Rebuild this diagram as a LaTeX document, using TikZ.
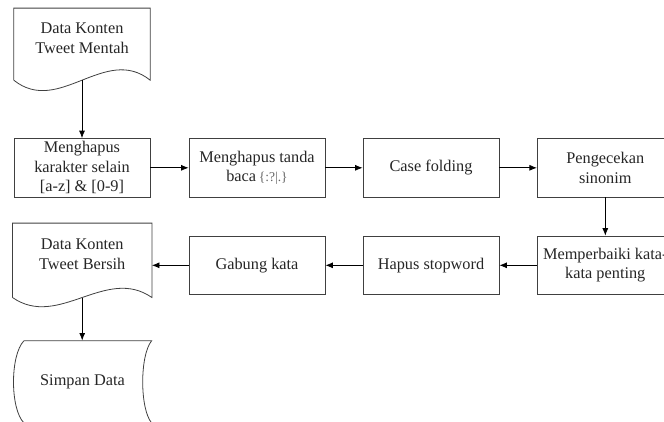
\documentclass[tikz,border=0pt]{standalone}
\usepackage{fontspec}
\setmainfont{Liberation Serif}
\usetikzlibrary{arrows.meta}
\tikzset{
  proc/.style={draw=black!75, line width=0.8pt, minimum width=136pt, minimum height=58.5pt,
    inner sep=0pt, align=center, text=black!85, font=\fontsize{16.3}{19.5}\selectfont},
  txt/.style={inner sep=0pt, align=center, text=black!85, font=\fontsize{16.3}{19.5}\selectfont},
  frame/.style={draw=none, inner sep=0pt},
  outline/.style={draw=black!75, line width=0.8pt},
  conn/.style={draw=black, line width=0.8pt, -{Latex[length=7.5pt,width=6pt]}},
}
\begin{document}
\begin{tikzpicture}[x=1pt,y=-1pt]
\useasboundingbox (0,0) rectangle (664,421);
\begin{scope}
\clip (0,0) rectangle (664,421);
% process boxes
\node[proc] (b1) at (82,167.8) {Menghapus\\karakter selain\\{[a-z] \& [0-9]}};
\node[proc] (b2) at (257,167.8) {Menghapus tanda\\baca\,{\fontsize{13.5}{16}\selectfont\color{black!60}\{:?|.\}}};
\node[proc] (b3) at (431,167.8) {Case folding};
\node[proc] (b4) at (605.3,167.8) {Pengecekan\\sinonim};
\node[proc] (b5) at (605.3,265.3) {Memperbaiki kata-\\kata penting};
\node[proc] (b6) at (431,265.3) {Hapus stopword};
\node[proc] (b7) at (257,265.3) {Gabung kata};
% document 1
\node[frame, minimum width=136pt, minimum height=71.7pt] (d1) at (82,44.15) {};
\draw[outline] (d1.south west) -- (d1.north west) -- (d1.north east) -- (d1.south east)
  .. controls +(-45,-36) and +(45,36) .. (d1.south west);
\node[txt] (d1t) at (82,38) {Data Konten\\Tweet Mentah};
% document 2
\node[frame, minimum width=139pt, minimum height=74pt] (d2) at (82.2,260.3) {};
\draw[outline] (d2.south west) -- (d2.north west) -- (d2.north east) -- (d2.south east)
  .. controls +(-46,-32) and +(46,32) .. (d2.south west);
\node[txt] (d2t) at (82.2,254) {Data Konten\\Tweet Bersih};
% stored data
\node[frame, minimum width=138.4pt, minimum height=82.3pt, align=center, text=black!85,
  font=\fontsize{16.3}{19.5}\selectfont] (st) at (82.5,381.85) {Simpan Data};
\draw[outline] (24,340.7) -- (151.7,340.7)
  .. controls (139.7,355) and (139.7,409) .. (151.7,423) -- (24,423)
  .. controls (10,409) and (10,355) .. (24,340.7);
% connectors
\draw[conn] (d1.south) -- (b1.north);
\draw[conn] (b1) -- (b2);
\draw[conn] (b2) -- (b3);
\draw[conn] (b3) -- (b4);
\draw[conn] (b4) -- (b5);
\draw[conn] (b5) -- (b6);
\draw[conn] (b6) -- (b7);
\draw[conn] (b7.west) -- (b7.west -| d2.east);
\draw[conn] (d2.south) -- (d2.south |- st.north);
\end{scope}
\end{tikzpicture}
\end{document}
